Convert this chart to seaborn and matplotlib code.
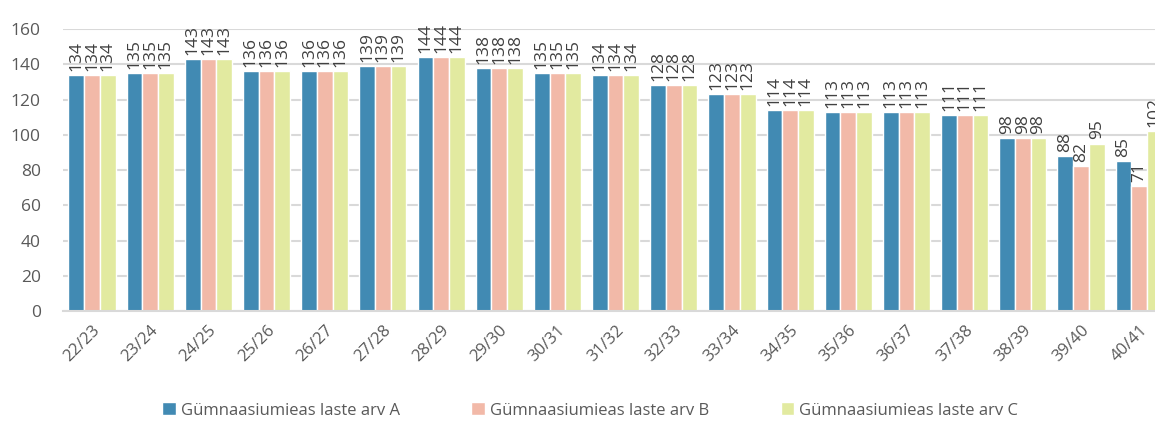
import matplotlib
matplotlib.use('Agg')
import pandas as pd
import matplotlib.pyplot as plt
import seaborn as sns

periods = ['22/23', '23/24', '24/25', '25/26', '26/27', '27/28', '28/29', '29/30', '30/31', '31/32',
           '32/33', '33/34', '34/35', '35/36', '36/37', '37/38', '38/39', '39/40', '40/41']
laste_a = [134, 135, 143, 136, 136, 139, 144, 138, 135, 134, 128, 123, 114, 113, 113, 111, 98, 88, 85]
laste_b = [134, 135, 143, 136, 136, 139, 144, 138, 135, 134, 128, 123, 114, 113, 113, 111, 98, 82, 71]
laste_c = [134, 135, 143, 136, 136, 139, 144, 138, 135, 134, 128, 123, 114, 113, 113, 111, 98, 95, 102]
series = ['Gümnaasiumieas laste arv A', 'Gümnaasiumieas laste arv B', 'Gümnaasiumieas laste arv C']
colors = ['#418AB3', '#F2B9A8', '#E2EAA0']

df = pd.DataFrame({'periood': periods, series[0]: laste_a, series[1]: laste_b, series[2]: laste_c})
long = df.melt(id_vars='periood', var_name='seeria', value_name='arv')

sns.set_style('white')
plt.rcParams['font.family'] = ['Open Sans', 'DejaVu Sans']

fig = plt.figure(figsize=(11.55, 4.24), dpi=100)
ax = fig.add_axes([0.0545, 0.2665, 0.957, 0.665])

sns.barplot(data=long, x='periood', y='arv', hue='seeria', palette=colors, width=0.81,
            saturation=1, edgecolor='white', linewidth=1, ax=ax)

for cont in ax.containers:
    ax.bar_label(cont, rotation=90, padding=3, fontsize=12.5, color='#404040')

ax.set_ylim(0, 160)
ax.set_yticks(range(0, 161, 20))
ax.set_xlabel('')
ax.set_ylabel('')
ax.yaxis.grid(True, color='#d9d9d9', linewidth=1.5)
ax.set_axisbelow(True)
for s in ['top', 'right', 'left']:
    ax.spines[s].set_visible(False)
ax.spines['bottom'].set_color('#d9d9d9')
ax.spines['bottom'].set_linewidth(1.5)
ax.tick_params(axis='y', length=0, pad=16, labelsize=12.5, labelcolor='#595959')
ax.tick_params(axis='x', length=0, pad=8, labelsize=12, labelcolor='#595959')
plt.setp(ax.get_xticklabels(), rotation=45, ha='right', rotation_mode='anchor')

handles, labels = ax.get_legend_handles_labels()
ax.get_legend().remove()
fig.legend(handles, labels, loc='center', bbox_to_anchor=(0.511, 0.032), ncol=3, frameon=False,
           fontsize=12, labelcolor='#595959', handlelength=0.8, handleheight=0.8,
           handletextpad=0.3, columnspacing=4.3)

fig.savefig('out.png', dpi=100)
